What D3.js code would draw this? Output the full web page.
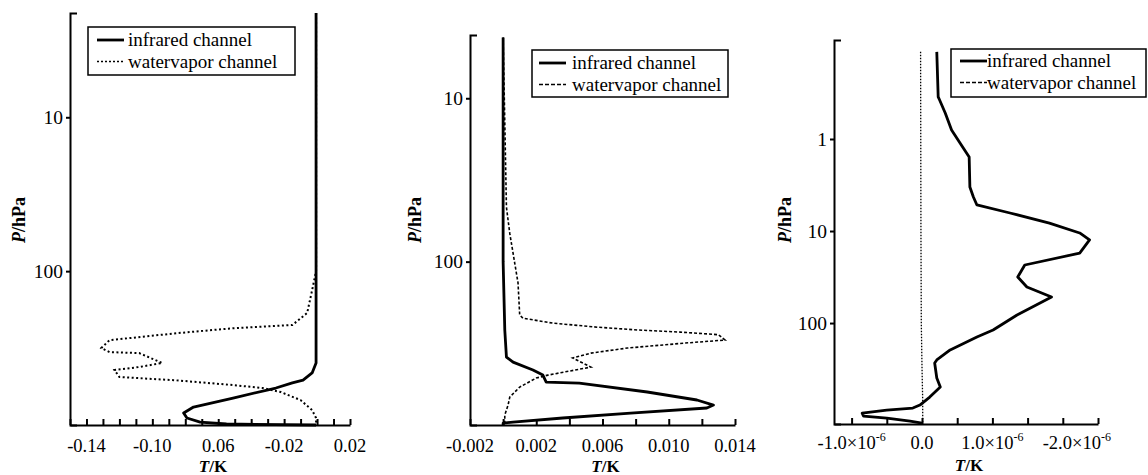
<!DOCTYPE html>
<html>
<head>
<meta charset="utf-8">
<script src="https://cdn.jsdelivr.net/npm/d3@7"></script>
<style>
  body { margin: 0; background: #fff; }
  svg { display: block; }
</style>
</head>
<body>
<svg id="chart" width="1148" height="475"></svg>
<script>
const FONT = '"Liberation Serif", "Times New Roman", serif';

// ---- panel 1 : pressure (hPa) / temperature (K)
const irP1 = [2.1, 100, 300, 395, 459, 511, 533, 575, 668, 764, 836, 901, 958, 985, 1000];
const irT1 = [-0.0006, -0.0006, -0.0006, -0.0006, -0.003, -0.0085, -0.015, -0.025, -0.051, -0.075, -0.081, -0.079, -0.071, -0.055, -0.0006];
const wvP1 = [2.1, 100, 133, 187, 224, 235, 253, 281, 316, 336, 341, 395, 420, 439, 488, 511, 550, 575, 611, 689, 800, 901, 1000];
const wvT1 = [-0.0006, -0.0006, -0.003, -0.006, -0.015, -0.051, -0.085, -0.126, -0.131, -0.126, -0.108, -0.094, -0.108, -0.123, -0.12, -0.087, -0.051, -0.033, -0.022, -0.01, -0.003, -0.0006, -0.0006];
const xTicks1 = [-0.15, -0.14, -0.13, -0.12, -0.11, -0.10, -0.09, -0.08, -0.07, -0.06, -0.05, -0.04, -0.03, -0.02, -0.01, 0, 0.01, 0.02];
const xLabAt1 = [-0.14, -0.10, -0.06, -0.02, 0.02];
const xLab1 = ["-0.14", "-0.10", "0.06", "-0.02", "0.02"];
const yTicks1 = [10, 100];

// ---- panel 2
const irP2 = [4.24, 100, 262, 384, 412, 461, 495, 546, 554, 628, 703, 755, 787, 845, 906, 959, 973, 1000];
const irT2 = [0, 0, 0.0001, 0.0002, 0.0006, 0.0018, 0.0024, 0.0026, 0.0046, 0.0087, 0.0117, 0.0127, 0.0123, 0.0077, 0.0036, 0.0006, 0, 0];
const wvP2 = [4.24, 46.4, 67, 102, 135, 212, 222, 238, 252, 262, 270, 280, 302, 315, 338, 363, 389, 442, 495, 516, 586, 675, 755, 869, 1000];
const wvT2 = [0, 0.0002, 0.0004, 0.0007, 0.0009, 0.001, 0.0012, 0.003, 0.0057, 0.0081, 0.0107, 0.013, 0.0134, 0.011, 0.0075, 0.0053, 0.0042, 0.0053, 0.0027, 0.002, 0.001, 0.0004, 0.0003, 0.0001, 0.0001];
const xTicks2 = [-0.002, 0, 0.002, 0.004, 0.006, 0.008, 0.010, 0.012, 0.014];
const xLabAt2 = [-0.002, 0.002, 0.006, 0.010, 0.014];
const xLab2 = ["-0.002", "0.002", "0.006", "0.010", "0.014"];
const yTicks2 = [10, 100];

// ---- panel 3 (T in units of 1e-6 K)
const irP3 = [0.113, 0.349, 0.377, 0.521, 0.798, 1.105, 1.57, 3.32, 4.27, 5.21, 6.37, 8.19, 10.5, 12.5, 17.4, 23.4, 31.6, 40.6, 52.2, 81.8, 119, 142, 196, 252, 272, 396, 496, 637, 778, 839, 883, 951, 1026, 1079, 1163, 1222];
const irT3 = [0.21, 0.23, 0.25, 0.33, 0.42, 0.54, 0.67, 0.68, 0.73, 0.78, 1.25, 1.81, 2.24, 2.38, 2.24, 1.46, 1.36, 1.49, 1.84, 1.35, 1.01, 0.78, 0.40, 0.21, 0.18, 0.21, 0.26, 0.11, -0.03, -0.13, -0.50, -0.85, -0.83, -0.50, -0.17, 0.0];
const wvP3 = [0.113, 10, 100, 300, 700, 1222];
const wvT3 = [-0.02, -0.015, -0.01, 0, 0.01, 0.01];
const xTicks3 = [-1.0, -0.5, 0, 0.5, 1.0, 1.5, 2.0, 2.5];
const xLabAt3 = [-1.0, 0, 1.0, 2.0];
const xLab3 = ["-1.0×10^-6", "0.0", "1.0×10^-6", "-2.0×10^-6"];
const yTicks3 = [1, 10, 100];

const legendNames = ["infrared channel", "watervapor channel"];

const panels = [
  { ir: [irP1, irT1], wv: [wvP1, wvT1], xTicks: xTicks1, xLabAt: xLabAt1, xLab: xLab1, yTicks: yTicks1,
    xDomain: [-0.15, 0.02], xRange: [70, 350], yDomain: [2.1, 1000], yRange: [13, 425],
    wvDash: "2,2.5", wvWidth: 2, labBase: 452, titleBase: 472, yTitleX: 25, lastDx: 0,
    legend: { x: 88, y: 27, w: 207, h: 48, lx0: 97, lx1: 124, tx: 128, b1: 46, b2: 67.5, dash: "2,2" } },
  { ir: [irP2, irT2], wv: [wvP2, wvT2], xTicks: xTicks2, xLabAt: xLabAt2, xLab: xLab2, yTicks: yTicks2,
    xDomain: [-0.002, 0.014], xRange: [470, 735], yDomain: [4.1, 1000], yRange: [35, 425],
    wvDash: "3,2", wvWidth: 1.6, labBase: 452, titleBase: 472, yTitleX: 421, lastDx: 0,
    legend: { x: 532, y: 50, w: 196, h: 47, lx0: 539, lx1: 566, tx: 572, b1: 69, b2: 90.5, dash: "4,2" } },
  { ir: [irP3, irT3], wv: [wvP3, wvT3], xTicks: xTicks3, xLabAt: xLabAt3, xLab: xLab3, yTicks: yTicks3,
    xDomain: [-1.25, 2.5], xRange: [834, 1098], yDomain: [0.084, 1250], yRange: [40, 424],
    wvDash: "1.5,1.5", wvWidth: 1.3, labBase: 449, titleBase: 471, yTitleX: 791, lastDx: 14,
    legend: { x: 951, y: 49, w: 195, h: 48, lx0: 960, lx1: 987, tx: 987, b1: 67, b2: 88.5, dash: "4,2" } }
];

const svg = d3.select('#chart');

function drawPanel(pn) {
  const x = d3.scaleLinear().domain(pn.xDomain).range(pn.xRange);
  const y = d3.scaleLog().domain(pn.yDomain).range(pn.yRange);
  const g = svg.append('g');

  // x axis, ticks pointing inward
  const xa = g.append('g')
    .attr('transform', 'translate(0,' + pn.yRange[1] + ')')
    .call(d3.axisBottom(x).tickValues(pn.xTicks).tickSizeInner(-6).tickSizeOuter(0).tickFormat(''));
  xa.selectAll('path,line').attr('stroke', '#000').attr('stroke-width', 2);

  // x tick labels
  const nLab = pn.xLab.length;
  g.selectAll('.xlab')
    .data(d3.zip(pn.xLabAt, pn.xLab))
    .join('text')
      .attr('class', 'xlab')
      .attr('x', d => x(d[0]))
      .attr('dx', (d, i) => i === nLab - 1 ? pn.lastDx : 0)
      .attr('y', pn.labBase)
      .attr('text-anchor', 'middle')
      .style('font-size', '18.5px')
      .each(function(d) {
        const parts = d[1].split('^');
        const t = d3.select(this);
        t.append('tspan').text(parts[0]);
        if (parts[1]) t.append('tspan').attr('dy', -8).style('font-size', '12px').text(parts[1]);
      });

  // y axis (log)
  const ya = g.append('g')
    .attr('transform', 'translate(' + pn.xRange[0] + ',0)')
    .call(d3.axisLeft(y).tickValues(pn.yTicks).tickFormat(d3.format('d'))
      .tickSizeInner(4).tickSizeOuter(-7).tickPadding(3));
  ya.selectAll('text').style('font-size', '19.5px');
  ya.selectAll('path,line').attr('stroke', '#000').attr('stroke-width', 2);

  // axis titles
  const yt = g.append('text')
    .attr('transform', 'translate(' + pn.yTitleX + ',220) rotate(-90)')
    .attr('text-anchor', 'middle')
    .style('font-size', '18px')
    .style('font-weight', 'bold');
  yt.append('tspan').style('font-style', 'italic').text('P');
  yt.append('tspan').text('/hPa');

  const xt = g.append('text')
    .attr('x', (pn.xRange[0] + pn.xRange[1]) / 2 + 3)
    .attr('y', pn.titleBase)
    .attr('text-anchor', 'middle')
    .style('font-size', '17px')
    .style('font-weight', 'bold');
  xt.append('tspan').style('font-style', 'italic').text('T');
  xt.append('tspan').text('/K');

  const line = d3.line().x(d => x(d[1])).y(d => y(d[0]));

  g.append('path')
    .datum(d3.zip(pn.wv[0], pn.wv[1]))
    .attr('fill', 'none')
    .attr('stroke', '#000')
    .attr('stroke-width', pn.wvWidth)
    .attr('stroke-dasharray', pn.wvDash)
    .attr('d', line);

  g.append('path')
    .datum(d3.zip(pn.ir[0], pn.ir[1]))
    .attr('fill', 'none')
    .attr('stroke', '#000')
    .attr('stroke-width', 2.8)
    .attr('stroke-linejoin', 'round')
    .attr('d', line);

  // legend
  const L = pn.legend;
  g.append('rect')
    .attr('x', L.x).attr('y', L.y).attr('width', L.w).attr('height', L.h)
    .attr('fill', '#fff').attr('stroke', '#000').attr('stroke-width', 1.5);
  g.append('line')
    .attr('x1', L.lx0).attr('x2', L.lx1).attr('y1', L.b1 - 6).attr('y2', L.b1 - 6)
    .attr('stroke', '#000').attr('stroke-width', 2.8);
  g.append('line')
    .attr('x1', L.lx0).attr('x2', L.lx1).attr('y1', L.b2 - 6).attr('y2', L.b2 - 6)
    .attr('stroke', '#000').attr('stroke-width', 1.5).attr('stroke-dasharray', L.dash);
  g.selectAll('.leg')
    .data(legendNames)
    .join('text')
      .attr('class', 'leg')
      .attr('x', L.tx)
      .attr('y', (d, i) => i === 0 ? L.b1 : L.b2)
      .style('font-size', '19px')
      .text(d => d);
}

panels.forEach(drawPanel);

// serif everywhere (inline style beats the axis font attribute)
svg.selectAll('text').style('font-family', FONT).style('fill', '#000');
</script>
</body>
</html>
